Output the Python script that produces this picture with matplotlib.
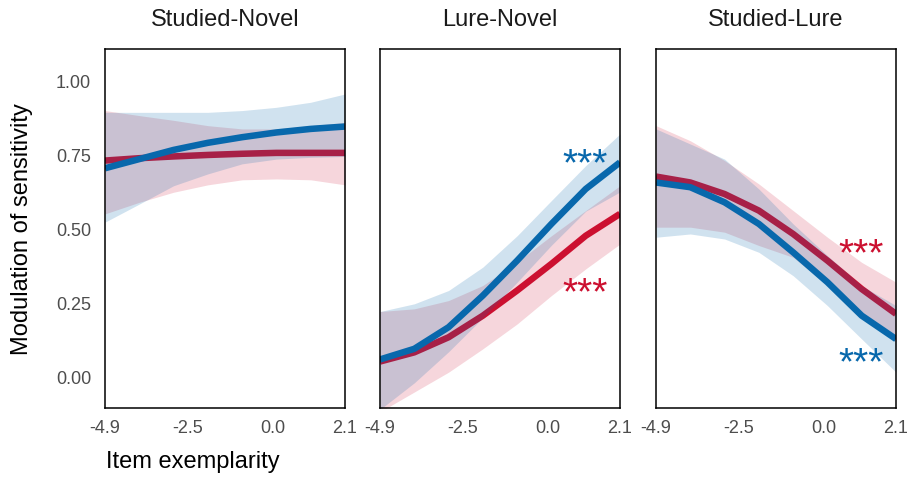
import numpy as np
import matplotlib
matplotlib.use("Agg")
import matplotlib.pyplot as plt

plt.rcParams['font.family'] = ['Liberation Sans', 'DejaVu Sans']

# Item exemplarity grid shared by all panels
exemplarity = [-4.9, -3.9, -2.9, -1.9, -0.9, 0.1, 1.1, 2.1]
x_ticks = [-4.9, -2.5, 0.0, 2.1]
x_tick_labels = ["-4.9", "-2.5", "0.0", "2.1"]
y_ticks = [0.00, 0.25, 0.50, 0.75, 1.00]
y_tick_labels = ["0.00", "0.25", "0.50", "0.75", "1.00"]

panel_titles = ["Studied-Novel", "Lure-Novel", "Studied-Lure"]

# Red series: fitted modulation and confidence band per panel
red_fit = [
    [0.731, 0.739, 0.745, 0.750, 0.754, 0.757, 0.757, 0.757],
    [0.052, 0.083, 0.134, 0.207, 0.292, 0.382, 0.477, 0.551],
    [0.677, 0.657, 0.618, 0.562, 0.483, 0.393, 0.297, 0.213],
]
red_upper = [
    [0.900, 0.883, 0.867, 0.849, 0.838, 0.838, 0.849, 0.860],
    [0.221, 0.230, 0.258, 0.309, 0.388, 0.477, 0.562, 0.646],
    [0.849, 0.798, 0.731, 0.652, 0.562, 0.472, 0.387, 0.320],
]
red_lower = [
    [0.551, 0.590, 0.624, 0.649, 0.666, 0.669, 0.666, 0.649],
    [-0.118, -0.051, 0.016, 0.095, 0.179, 0.275, 0.365, 0.449],
    [0.506, 0.506, 0.489, 0.444, 0.404, 0.310, 0.210, 0.118],
]

# Blue series: fitted modulation and confidence band per panel
blue_fit = [
    [0.705, 0.736, 0.767, 0.791, 0.810, 0.826, 0.838, 0.846],
    [0.059, 0.095, 0.168, 0.275, 0.393, 0.517, 0.635, 0.725],
    [0.657, 0.641, 0.590, 0.517, 0.421, 0.320, 0.207, 0.128],
]
blue_upper = [
    [0.894, 0.894, 0.894, 0.894, 0.900, 0.911, 0.928, 0.956],
    [0.221, 0.247, 0.292, 0.371, 0.477, 0.596, 0.714, 0.821],
    [0.838, 0.787, 0.736, 0.635, 0.517, 0.410, 0.308, 0.241],
]
blue_lower = [
    [0.523, 0.584, 0.646, 0.686, 0.720, 0.736, 0.742, 0.745],
    [-0.110, -0.020, 0.085, 0.200, 0.320, 0.445, 0.560, 0.625],
    [0.472, 0.483, 0.466, 0.421, 0.342, 0.241, 0.128, 0.016],
]

# Significance markers: (panel, series, x, y)
stars = [
    (1, "blue", 1.08, 0.759),
    (1, "red", 1.08, 0.325),
    (2, "red", 1.08, 0.455),
    (2, "blue", 1.08, 0.089),
]

RED = "#CC1030"
BLUE = "#0868AC"
TICK_GREY = "#4D4D4D"

W, H = 911, 481
fig = plt.figure(figsize=(W / 100, H / 100), dpi=100)

panel_left_px = [105, 380, 656]
panel_w_px = 240
panel_top_px, panel_bot_px = 50, 409

axes = []
for i, left in enumerate(panel_left_px):
    ax = fig.add_axes([left / W, 1 - panel_bot_px / H,
                       panel_w_px / W, (panel_bot_px - panel_top_px) / H])
    axes.append(ax)

    ax.fill_between(exemplarity, red_lower[i], red_upper[i],
                    color=RED, alpha=0.17, linewidth=0, zorder=1)
    ax.plot(exemplarity, red_fit[i], color=RED, linewidth=4.7,
            solid_capstyle="butt", zorder=2)
    ax.fill_between(exemplarity, blue_lower[i], blue_upper[i],
                    color=BLUE, alpha=0.19, linewidth=0, zorder=3)
    ax.plot(exemplarity, blue_fit[i], color=BLUE, linewidth=4.7,
            solid_capstyle="butt", zorder=4)

    ax.set_xlim(-4.9, 2.1)
    ax.set_ylim(-0.105, 1.108)
    ax.set_xticks(x_ticks)
    ax.set_xticklabels(x_tick_labels)
    ax.set_yticks(y_ticks)
    if i == 0:
        ax.set_yticklabels(y_tick_labels)
    else:
        ax.set_yticklabels([])
    ax.tick_params(axis="both", length=0, labelsize=13, labelcolor=TICK_GREY)
    ax.tick_params(axis="x", pad=8)
    ax.tick_params(axis="y", pad=10)
    for sp in ax.spines.values():
        sp.set_color("black")
        sp.set_linewidth(1.1)
        sp.set_zorder(6)

    fig.text((left + panel_w_px / 2) / W, 1 - 20 / H, panel_titles[i],
             ha="center", va="center", fontsize=17, color="#1A1A1A")

star_size = 28
for panel, series, sx, sy in stars:
    axes[panel].annotate("***", xy=(sx, sy), xytext=(0, -0.575 * star_size),
                         textcoords="offset points", ha="center", va="baseline",
                         fontsize=star_size, color=RED if series == "red" else BLUE,
                         zorder=7)

fig.text(22 / W, 1 - 229 / H, "Modulation of sensitivity", rotation=90,
         ha="center", va="center", fontsize=17, color="black")
fig.text(106 / W, 1 - 462 / H, "Item exemplarity",
         ha="left", va="center", fontsize=17, color="black")

fig.savefig("out.png", dpi=100, facecolor="white")
